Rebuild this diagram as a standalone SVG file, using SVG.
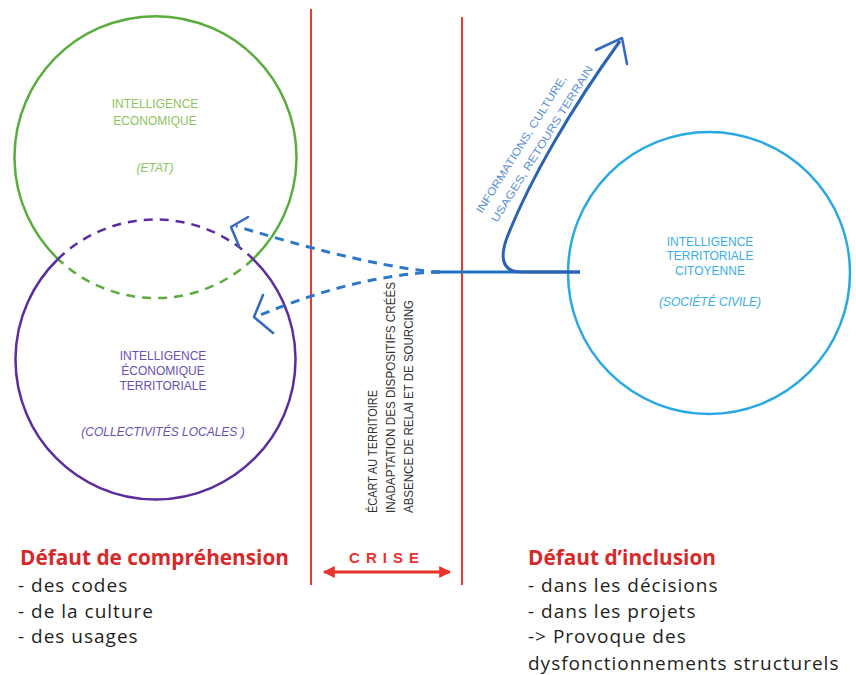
<svg xmlns="http://www.w3.org/2000/svg" width="856" height="675" viewBox="0 0 856 675">
<style>
.green{fill:none;stroke:#5aad3c;stroke-width:2.5}
.purple{fill:none;stroke:#5b2d9e;stroke-width:2.5}
.dash{stroke-dasharray:9 7}
.cyan{fill:none;stroke:#2aa8e2;stroke-width:2.5}
.red{stroke:#ea3a2e;stroke-width:2;fill:none}
.bl{fill:none;stroke:#2b78c6;stroke-width:3}
.head{fill:none;stroke:#3569c4;stroke-width:2.5;stroke-linecap:round;stroke-linejoin:round}
.lbl{font-family:"Liberation Sans",Arial,sans-serif;font-size:12px;text-anchor:middle}
.vt{font-family:"Liberation Sans",Arial,sans-serif;font-size:13px;fill:#333}
.h{font-family:"Open Sans",sans-serif;font-weight:bold;font-size:20.8px;fill:#d62a2a}
.t{font-family:"Open Sans",sans-serif;font-size:19px;letter-spacing:1px;fill:#231f20}
</style>
<defs>
<marker id="rh" viewBox="0 0 10 10" refX="9" refY="5" markerWidth="4" markerHeight="4" orient="auto-start-reverse">
<path d="M0 0 L10 5 L0 10 z" fill="#e8322a"/>
</marker>
</defs>
<rect width="856" height="675" fill="#ffffff"/>

<g id="crise-lines">
<line class="red" x1="311" y1="9" x2="311" y2="585"/>
<line class="red" x1="462" y1="17" x2="462" y2="585"/>
</g>

<g id="etat">
<path class="green" d="M58 259 A141 141 0 1 1 253 259"/>
<path class="green dash" d="M253 259 A141 141 0 0 1 58 259"/>
<g class="lbl" fill="#8cc45e">
<text x="155" y="108">INTELLIGENCE</text>
<text x="155" y="125">ECONOMIQUE</text>
<text x="155" y="172" font-style="italic">(ETAT)</text>
</g>
</g>

<g id="collectivites">
<path class="purple" d="M253 259 A140 140 0 1 1 58 259"/>
<path class="purple dash" d="M58 259 A140 140 0 0 1 253 259"/>
<g class="lbl" fill="#6a4fb4">
<text x="163" y="360">INTELLIGENCE</text>
<text x="163" y="375">ÉCONOMIQUE</text>
<text x="163" y="390">TERRITORIALE</text>
<text x="163" y="436" font-style="italic">(COLLECTIVITÉS LOCALES )</text>
</g>
</g>

<g id="citoyenne">
<circle class="cyan" cx="709" cy="273" r="141"/>
<g class="lbl" fill="#3aaee8">
<text x="710" y="246">INTELLIGENCE</text>
<text x="710" y="260">TERRITORIALE</text>
<text x="710" y="275">CITOYENNE</text>
<text x="710" y="306" font-style="italic">(SOCIÉTÉ CIVILE)</text>
</g>
</g>

<g id="connectors">
<line x1="436" y1="272" x2="580" y2="272" stroke="#2070c0" stroke-width="3"/>
<path class="bl dash" d="M440 272 C400 270 330 255 236 226"/>
<path class="bl dash" d="M440 272 C380 274 320 290 258 316"/>
<polyline class="head" points="248,217 231,227 239,246"/>
<polyline class="head" points="263,295 254,317 273,333"/>
<path d="M580 272 L522 272 C500 272 500 255 508 235 C530 180 570 110 620 41" fill="none" stroke="#2a63b4" stroke-width="3"/>
<polyline class="head" points="596,50 622,38 627,64" stroke="#2a63b4"/>
<line x1="324" y1="572" x2="450" y2="572" stroke="#e8322a" stroke-width="3" marker-start="url(#rh)" marker-end="url(#rh)"/>
</g>

<g id="flow-label" font-family="Liberation Sans, Arial, sans-serif" font-size="11" fill="#5a8fd0">
<text transform="translate(482,214) rotate(-58)" textLength="160" lengthAdjust="spacingAndGlyphs">INFORMATIONS, CULTURE,</text>
<text transform="translate(497,223) rotate(-58)" textLength="182" lengthAdjust="spacingAndGlyphs">USAGES, RETOURS TERRAIN</text>
</g>

<g id="crise-text">
<text class="vt" transform="translate(377,513) rotate(-90)" textLength="123" lengthAdjust="spacingAndGlyphs">ÉCART AU TERRITOIRE</text>
<text class="vt" transform="translate(395,513) rotate(-90)" textLength="231" lengthAdjust="spacingAndGlyphs">INADAPTATION DES DISPOSITIFS CRÉÉS</text>
<text class="vt" transform="translate(413,513) rotate(-90)" textLength="213" lengthAdjust="spacingAndGlyphs">ABSENCE DE RELAI ET DE SOURCING</text>
<text x="387" y="563" font-family="Liberation Sans, Arial, sans-serif" font-weight="bold" font-size="15" fill="#e8322a" text-anchor="middle" letter-spacing="6">CRISE</text>
</g>

<g id="left-notes">
<text class="h" x="20" y="565">Défaut de compréhension</text>
<text class="t" x="18" y="592">- des codes</text>
<text class="t" x="18" y="618">- de la culture</text>
<text class="t" x="18" y="643">- des usages</text>
</g>

<g id="right-notes">
<text class="h" x="528" y="565">Défaut d’inclusion</text>
<text class="t" x="528" y="592">- dans les décisions</text>
<text class="t" x="528" y="618">- dans les projets</text>
<text class="t" x="528" y="643">-&gt; Provoque des</text>
<text class="t" x="528" y="670">dysfonctionnements structurels</text>
</g>
</svg>
